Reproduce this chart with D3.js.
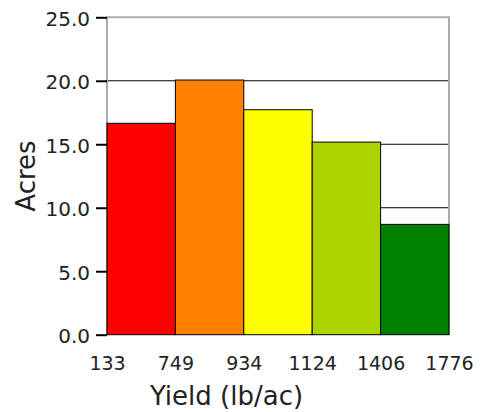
<!DOCTYPE html>
<html><head><meta charset="utf-8">
<script src="https://cdn.jsdelivr.net/npm/d3@7"></script>
<style>
html,body{margin:0;padding:0;background:#fff;}
svg{display:block;font-family:"DejaVu Sans",Verdana,sans-serif;}
</style></head>
<body><svg id="c" width="494" height="412"></svg>
<script>
const binEdges = ["133","749","934","1124","1406","1776"];
const acres = [16.65, 20.06, 17.72, 15.17, 8.69];
const colors = ["#ff0000","#ff8000","#ffff00","#acd400","#008000"];
const yTicks = [0,5,10,15,20,25];
const xTitle = "Yield (lb/ac)";
const yTitle = "Acres";

const svg = d3.select("#c");
const L = 107, R = 449, T = 17.3, B = 334.7;
const x = d3.scaleLinear().domain([0, acres.length]).range([L, R]);
const y = d3.scaleLinear().domain([0, 25]).range([B, T]);

// gridlines
svg.append("g").selectAll("line").data(yTicks.filter(d=>d>0 && d<25)).join("line")
  .attr("x1", L).attr("x2", R).attr("y1", d=>y(d)).attr("y2", d=>y(d))
  .attr("stroke", "#000").attr("stroke-width", 1);

// frame
svg.append("path")
  .attr("d", `M${L},${B}V${T}H${R}V${B}`)
  .attr("fill","none").attr("stroke","#aaaaaa").attr("stroke-width",2);

// bars
svg.append("g").selectAll("rect").data(acres).join("rect")
  .attr("x", (d,i)=>x(i)).attr("width", (d,i)=>x(i+1)-x(i))
  .attr("y", d=>y(d)).attr("height", d=>B-y(d))
  .attr("fill", (d,i)=>colors[i]).attr("stroke","#000").attr("stroke-width",1);

// y axis
const ya = svg.append("g").attr("transform", `translate(${L},0)`)
  .call(d3.axisLeft(y).tickValues(yTicks).tickFormat(d3.format(".1f")).tickSize(11).tickPadding(6));
ya.select(".domain").remove();
ya.selectAll(".tick line").attr("stroke","#000").attr("stroke-width",2);
ya.selectAll(".tick text").attr("font-size",20).attr("font-family","DejaVu Sans")
  .attr("fill","#222").attr("dy","0.4em");

// x axis labels
const xa = svg.append("g").attr("transform", `translate(0,${B})`)
  .call(d3.axisBottom(x).tickValues(d3.range(binEdges.length)).tickFormat(i=>binEdges[i]).tickSize(0).tickPadding(0));
xa.select(".domain").remove();
xa.selectAll(".tick text").attr("font-size",19).attr("font-family","DejaVu Sans")
  .attr("fill","#222").attr("dy",null).attr("y",35.5);

// titles
svg.append("text").attr("x",226.5).attr("y",404.5).attr("text-anchor","middle")
  .attr("font-size",26).attr("fill","#222").text(xTitle);
svg.append("text").attr("transform","translate(35,176) rotate(-90)").attr("text-anchor","middle")
  .attr("font-size",26).attr("fill","#222").text(yTitle);
</script></body></html>
